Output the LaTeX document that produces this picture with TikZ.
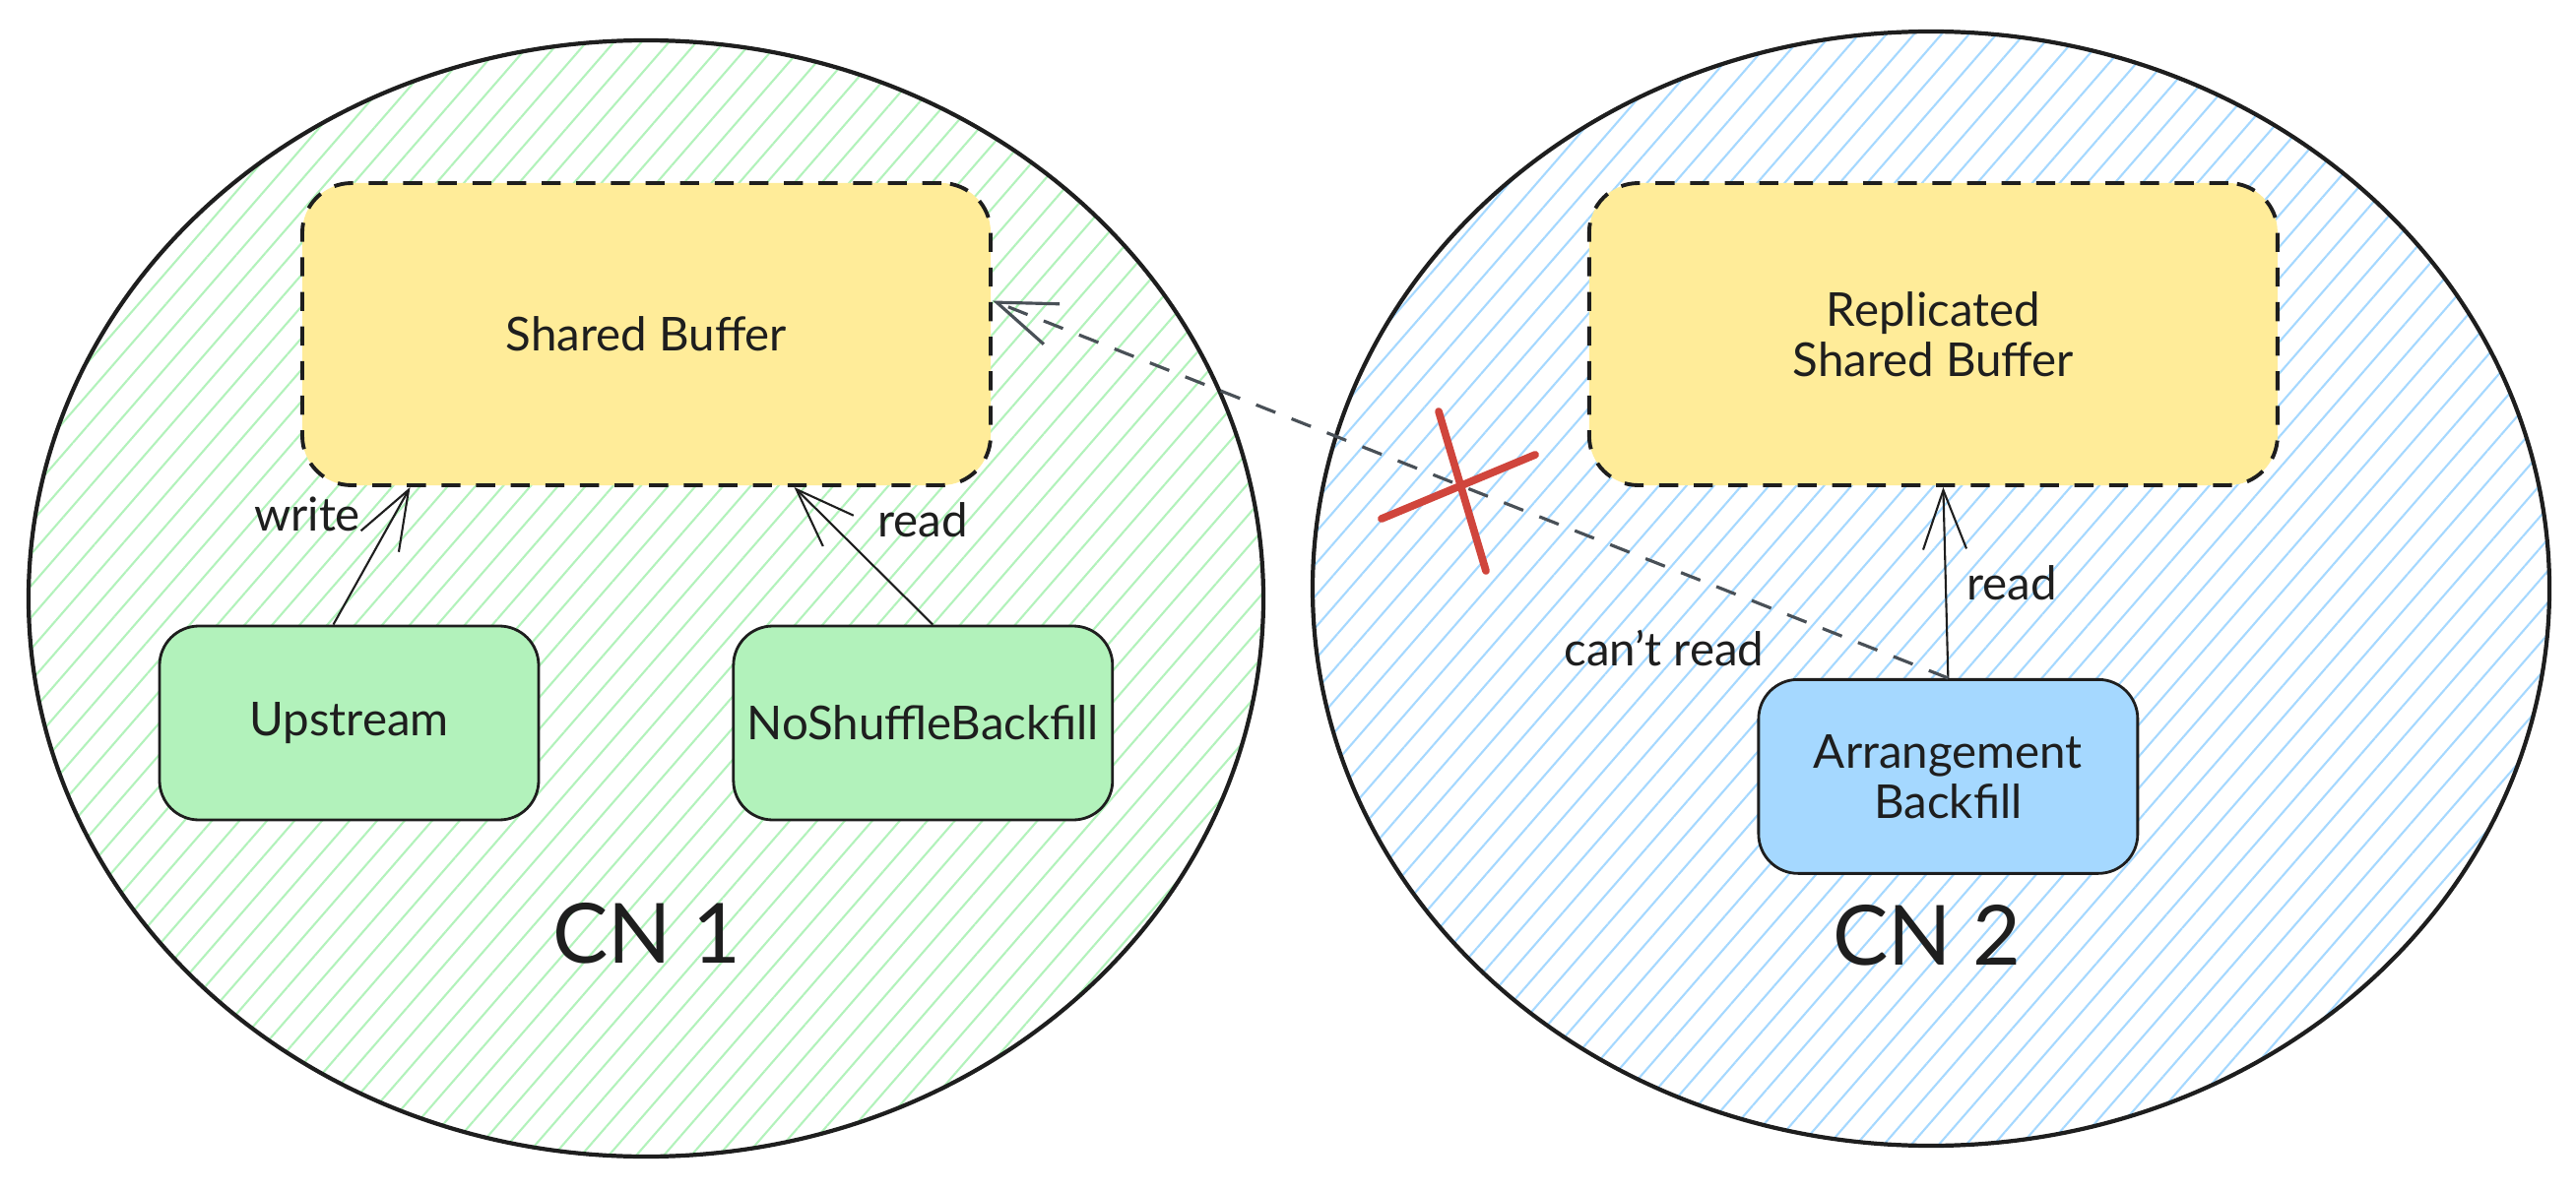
\documentclass[tikz,border=0pt]{standalone}
\usepackage{fontspec}
\setmainfont{Lato}
\usepackage{xcolor}
\usepackage{tikz}
\usetikzlibrary{positioning,arrows.meta,shapes.geometric,patterns.meta}
\definecolor{ink}{HTML}{1E1E1E}
\definecolor{slate}{HTML}{495057}
\definecolor{bufyellow}{HTML}{FFEC99}
\definecolor{opgreen}{HTML}{B2F2BB}
\definecolor{opblue}{HTML}{A5D8FF}
\definecolor{crossred}{HTML}{D0453C}
\tikzset{
  zone/.style   ={draw=ink, ellipse, line width=1.2pt, inner sep=0pt, pattern={Lines[angle=49, distance=6pt, line width=0.6pt]}},
  buf/.style    ={draw=ink, rectangle, rounded corners=0.5cm, align=center, fill=bufyellow, line width=1.1pt, dash pattern=on 5.5pt off 4.5pt, minimum width=6.99cm, minimum height=3.07cm},
  opbox/.style  ={draw=ink, rectangle, rounded corners=0.4cm, align=center, line width=0.8pt, minimum width=3.85cm, minimum height=1.97cm},
  lbl/.style    ={text=ink, inner sep=1pt},
  cnlbl/.style  ={text=ink, font=\fontsize{24}{28}\selectfont},
  arr/.style    ={-{Straight Barb[length=0.6cm, width=0.44cm]}, draw=ink, line width=0.6pt},
  noarr/.style  ={arr, draw=slate, line width=0.9pt, dash pattern=on 6pt off 5pt},
  cross/.style  ={draw=crossred, line width=2.2pt, line cap=round},
}
\begin{document}
\begin{tikzpicture}[font=\fontsize{13.5}{14.5}\selectfont, text=ink]
  \useasboundingbox (0,0) rectangle (26.16,-12.10);
  \node[zone, pattern color=opgreen, minimum width=12.54cm, minimum height=11.34cm] (cn1) at (6.56,-6.08) {};
  \node[zone, pattern color=opblue,  minimum width=12.56cm, minimum height=11.32cm] (cn2) at (19.61,-5.98) {};

  \node[buf] (sb) at (6.565,-3.395) {Shared Buffer};
  \node[buf, right=6.04cm of sb] (rsb) {Replicated\\Shared Buffer};
  \node[opbox, fill=opgreen] (up) at (3.545,-7.345) {Upstream};
  \node[opbox, fill=opgreen, right=1.95cm of up] (ns) {NoShuffleBackfill};
  \node[opbox, fill=opblue, below=1.94cm of rsb, xshift=0.15cm] (ab) {Arrangement\\Backfill};

  \draw[arr] ([xshift=-0.16cm]up.north) -- ([xshift=-2.4cm]sb.south);
  \draw[arr] ([xshift=0.1cm]ns.north) -- ([xshift=1.5cm]sb.south);
  \draw[arr] (ab.north) -- ([xshift=0.1cm]rsb.south);
  \draw[noarr] (ab.north) -- ([yshift=0.34cm]sb.east);

  \node[lbl] (wr)  at (3.12,-5.22) {write};
  \node[lbl] (rd1) at (9.37,-5.28) {read};
  \node[lbl] (rd2) at (20.43,-5.92) {read};
  \node[lbl] (cr)  at (16.90,-6.59) {can't read};

  \draw[cross] (14.61,-4.18) -- (15.09,-5.80);
  \draw[cross] (14.03,-5.27) -- (15.59,-4.62);

  \node[cnlbl] (cn1lbl) at (6.57,-9.48) {CN 1};
  \node[cnlbl] (cn2lbl) at (19.57,-9.50) {CN 2};
\end{tikzpicture}
\end{document}
